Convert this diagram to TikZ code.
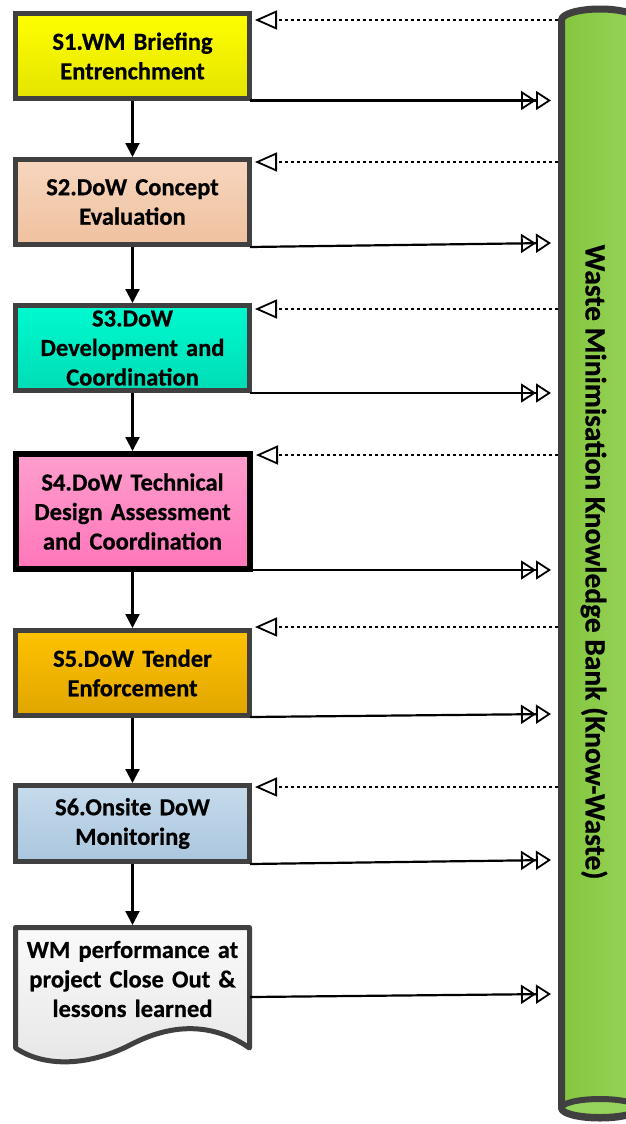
\documentclass[tikz,border=0pt]{standalone}
\usepackage{fontspec}
\setmainfont{Carlito}[BoldFeatures={FakeBold=0.6}]
\usetikzlibrary{arrows.meta}

\definecolor{edgegray}{HTML}{404040}
\definecolor{bankleft}{HTML}{84C63E}
\definecolor{bankright}{HTML}{96D35A}

\begin{document}
\begin{tikzpicture}[x=1pt,y=1pt,
  every node/.style={font=\fontsize{24.5}{29.5}\selectfont\bfseries, align=center},
  stagebox/.style={rectangle, draw=edgegray, line width=5pt, minimum width=234pt,
    minimum height=85pt, inner sep=0pt, text width=232pt},
  flow/.style={line width=2.2pt, -{Triangle[width=14pt,length=14pt]}},
  feedback/.style={line width=1.8pt, dash pattern=on 3pt off 3pt,
    -{Triangle[open,width=19pt,length=22pt,line width=1.8pt]}},
  record/.style={line width=2.2pt,
    -{Triangle[open,width=19pt,length=15pt,line width=1.8pt,sep=0pt]
      Triangle[open,width=19pt,length=15pt,line width=1.8pt]}}
]
\useasboundingbox (0,0) rectangle (625,-1124);

% knowledge bank cylinder
\path[left color=bankleft, right color=bankright]
  (561.5,-20) -- (561.5,-1108)
  arc[start angle=180, end angle=360, x radius=38.5, y radius=10]
  -- (638.5,-20)
  arc[start angle=0, end angle=180, x radius=38.5, y radius=11] -- cycle;
\draw[edgegray, line width=7pt, line join=round]
  (561.5,-20) -- (561.5,-1108)
  arc[start angle=180, end angle=360, x radius=38.5, y radius=10]
  -- (638.5,-20)
  arc[start angle=0, end angle=180, x radius=38.5, y radius=11] -- cycle;
\draw[edgegray, line width=6pt, fill=bankright] (600,-1108) ellipse[x radius=38.5, y radius=9];
\node[rotate=-90, font=\fontsize{29.5}{34}\selectfont\bfseries] (bank) at (594,-562)
  {Waste Minimisation Knowledge Bank (Know-Waste)};

% stages
\node[stagebox, top color={rgb,255:red,255;green,255;blue,0}, bottom color={rgb,255:red,228;green,228;blue,0}]
  (s1) at (132.5,-56) {S1.WM Briefing\\Entrenchment};
\node[stagebox, top color={rgb,255:red,247;green,214;blue,190}, bottom color={rgb,255:red,239;green,193;blue,159}]
  (s2) at (132.5,-202) {S2.DoW Concept\\Evaluation};
\node[stagebox, top color={rgb,255:red,0;green,250;blue,208}, bottom color={rgb,255:red,0;green,220;blue,181}]
  (s3) at (132.5,-348) {S3.DoW\\Development and\\Coordination};
\node[stagebox, draw=black, line width=6pt, minimum height=115pt,
  top color={rgb,255:red,255;green,158;blue,206}, bottom color={rgb,255:red,255;green,118;blue,186}]
  (s4) at (132.5,-511.5) {S4.DoW Technical\\Design Assessment\\and Coordination};
\node[stagebox, top color={rgb,255:red,255;green,194;blue,0}, bottom color={rgb,255:red,224;green,166;blue,0}]
  (s5) at (132.5,-673) {S5.DoW Tender\\Enforcement};
\node[stagebox, minimum height=76pt, top color={rgb,255:red,198;green,219;blue,236}, bottom color={rgb,255:red,170;green,198;blue,222}]
  (s6) at (132.5,-823.5) {S6.Onsite DoW\\Monitoring};

% close-out document
\draw[edgegray, line width=5pt, line join=round,
  top color={rgb,255:red,250;green,250;blue,250}, bottom color={rgb,255:red,230;green,230;blue,230}]
  (15.5,-927.5) -- (249.5,-927.5) -- (249.5,-1048)
  .. controls (215,-1024) and (175,-1022) .. (132,-1044)
  .. controls (90,-1066) and (45,-1068) .. (15.5,-1048) -- cycle;
\coordinate (closetop) at (132.5,-925);
\node[text width=232pt, inner sep=0pt] (close) at (132.5,-979) {WM performance at\\project Close Out \&\\lessons learned};

% stage sequence
\draw[flow] (s1.south) -- (s2.north);
\draw[flow] (s2.south) -- (s3.north);
\draw[flow] (s3.south) -- (s4.north);
\draw[flow] (s4.south) -- (s5.north);
\draw[flow] (s5.south) -- (s6.north);
\draw[flow] (s6.south) -- (closetop);

% feedback from the bank
\coordinate (b1) at (558,-20);
\coordinate (b2) at (558,-162);
\coordinate (b3) at (558,-309);
\coordinate (b4) at (558,-455);
\coordinate (b5) at (558,-627);
\coordinate (b6) at (558,-787);
\coordinate (t1) at (255,-20);
\coordinate (t2) at (255,-162);
\coordinate (t3) at (255,-309);
\coordinate (t4) at (256,-455);
\coordinate (t5) at (255,-627);
\coordinate (t6) at (255,-787);
\foreach \i in {1,...,6} \draw[feedback] (b\i) -- (t\i);

% records into the bank
\coordinate (o1) at (250,-100.5);
\coordinate (o2) at (250,-247);
\coordinate (o3) at (250,-393);
\coordinate (o4) at (250,-570);
\coordinate (o5) at (250,-717);
\coordinate (o6) at (250,-864);
\coordinate (o7) at (250,-997);
\coordinate (k1) at (551,-100.5);
\coordinate (k2) at (551,-243);
\coordinate (k3) at (551,-393);
\coordinate (k4) at (551,-570);
\coordinate (k5) at (551,-714);
\coordinate (k6) at (551,-860);
\coordinate (k7) at (551,-994);
\foreach \i in {1,...,7} \draw[record] (o\i) -- (k\i);
\end{tikzpicture}
\end{document}
